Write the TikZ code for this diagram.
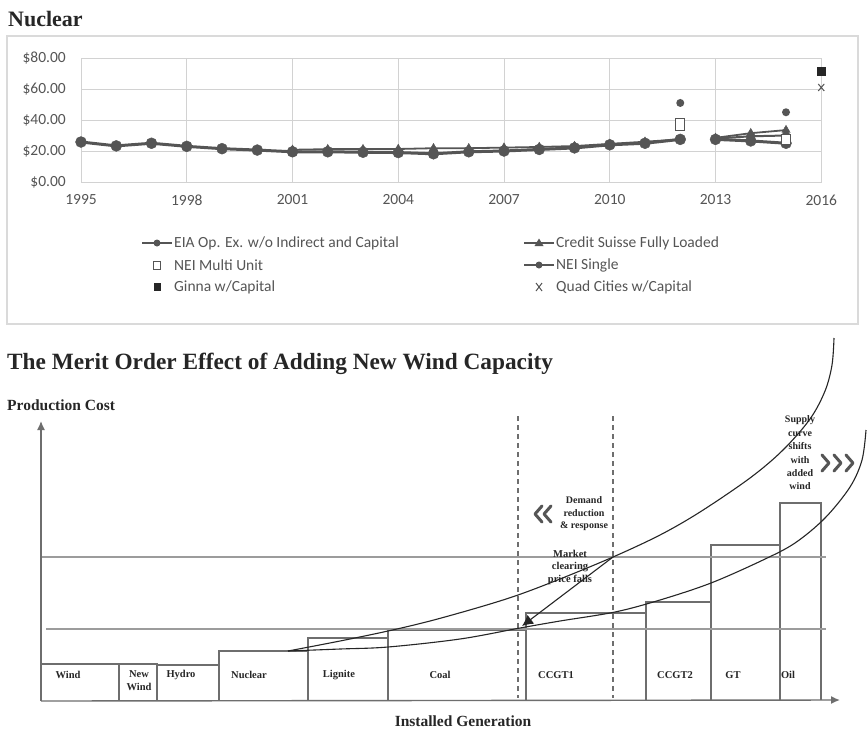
\documentclass[tikz,border=0pt]{standalone}
\usepackage{fontspec}
\setmainfont{Liberation Serif}
\newfontfamily\chartfont{Carlito}
\usetikzlibrary{arrows.meta,plotmarks}
\definecolor{sergray}{HTML}{555555}
\definecolor{gridgray}{HTML}{D2D2D2}
\definecolor{framegray}{HTML}{DADADA}
\definecolor{inkgray}{HTML}{262626}
\definecolor{linegray}{HTML}{6E6E6E}
\definecolor{levelgray}{HTML}{9C9C9C}
\tikzset{
  heading/.style={font=\bfseries\fontsize{22}{24}\selectfont, text=inkgray, anchor=west, inner sep=0pt},
  ticklabel/.style={font=\chartfont\fontsize{15.5}{17}\selectfont, text=sergray, inner sep=0pt},
  legendtext/.style={font=\chartfont\fontsize{15.5}{17}\selectfont, text=sergray, anchor=west, inner sep=0pt},
  grid line/.style={draw=gridgray, line width=1pt},
  series/.style={draw=sergray, line width=2.6pt, mark options={solid, fill=sergray, draw=sergray, line width=0.4pt}},
  eia/.style={series, line width=3pt, mark=*, mark size=5.5pt},
  cs/.style={series, line width=1.8pt, mark=triangle*, mark size=4.8pt},
  single/.style={series, line width=2pt, mark=*, mark size=4pt},
  axisline/.style={draw=linegray, line width=1.4pt, -{Latex[length=9pt,width=8pt]}},
  unit/.style={draw=linegray, line width=1.2pt},
  unitlabel/.style={font=\bfseries\fontsize{10.5}{13}\selectfont, text=inkgray, align=center, inner sep=0pt},
  level/.style={draw=levelgray, line width=2pt},
  bound/.style={draw=linegray, line width=1.2pt, dash pattern=on 5pt off 4pt},
  supply/.style={draw=inkgray, line width=1.1pt},
  note/.style={font=\bfseries\fontsize{10}{12.5}\selectfont, text=inkgray, align=center, inner sep=0pt},
  chevron/.style={draw=sergray, line width=3pt, line cap=round, line join=round},
}
\begin{document}
\begin{tikzpicture}[x=1pt,y=-1pt]
\useasboundingbox[fill=white] (0,0) rectangle (867,729);

% ---------------- Nuclear cost chart ----------------
\node[heading] (nuctitle) at (8,19) {Nuclear};
\draw[draw=framegray, line width=1.6pt] (7,36) rectangle (858,324);

% grid
\foreach \v/\lab in {0/\$0.00, 20/\$20.00, 40/\$40.00, 60/\$60.00, 80/\$80.00}{
  \draw[grid line] (81,{182-1.55*\v}) -- (822,{182-1.55*\v});
  \node[ticklabel, anchor=east] (ylab\v) at (66,{182-1.55*\v}) {\lab};
}
\foreach \yr in {1995,1998,2001,2004,2007,2010,2013,2016}{
  \draw[grid line] ({81+(\yr-1995)*35.25},58) -- ({81+(\yr-1995)*35.25},182);
  \node[ticklabel] (xlab\yr) at ({81+(\yr-1995)*35.25},200) {\yr};
}

\begin{scope}[shift={(81pt,-182pt)}, x=35.25pt, y=1.55pt]
  % Credit Suisse fully loaded
  \draw[cs] plot coordinates {(6,20.8) (7,21.2) (8,21.2) (9,21.3) (10,21.8) (11,21.8) (12,22.2) (13,22.6) (14,23.2) (15,24.6) (16,26) (17,27.5)};
  \draw[cs] plot coordinates {(18,28.5) (19,31.5) (20,33.5)};
  % EIA operating expense
  \draw[eia] plot coordinates {(0,25.8) (1,23.3) (2,25) (3,23) (4,21.5) (5,20.6) (6,19.5) (7,19.5) (8,19.2) (9,19) (10,18.2) (11,19.5) (12,20) (13,21) (14,22) (15,24) (16,25) (17,27.5)};
  \draw[single] plot coordinates {(18,28) (19,29.5) (20,30)};
  \draw[eia] plot coordinates {(18,27.5) (19,26.5) (20,25)};
  % single points
  \draw[draw=sergray, fill=white, line width=0.9pt] (17,41) ++(-4.5pt,0) rectangle ++(9pt,-12pt);
  \draw[draw=sergray, fill=white, line width=0.9pt] (20,31) ++(-4.5pt,0) rectangle ++(9pt,-10pt);
  \fill[sergray] (17,51) circle (4pt);
  \fill[sergray] (20,45) circle (4pt);
  \fill[inkgray] (21,71.5) ++(-4.5pt,-4.5pt) rectangle ++(9pt,9pt);
  \draw[sergray, line width=1pt] (21,61) ++(-3pt,-3.5pt) -- ++(6pt,7pt) ++(-6pt,0) -- ++(6pt,-7pt);
\end{scope}

% legend
\node[legendtext] (leg-eia) at (174,243) {EIA Op. Ex. w/o Indirect and Capital};
\node[legendtext] (leg-cs) at (556,243) {Credit Suisse Fully Loaded};
\node[legendtext] (leg-multi) at (174,265) {NEI Multi Unit};
\node[legendtext] (leg-single) at (556,265) {NEI Single};
\node[legendtext] (leg-ginna) at (174,287) {Ginna w/Capital};
\node[legendtext] (leg-quad) at (556,287) {Quad Cities w/Capital};

\draw[series, line width=2.4pt] ([xshift=-2pt]leg-eia.west) -- ++(-30,0);
\fill[sergray] ([xshift=-17pt]leg-eia.west) circle (3.5pt);
\draw[series, line width=1.8pt] ([xshift=-2pt]leg-cs.west) -- ++(-30,0);
\fill[sergray] ([xshift=-17pt]leg-cs.west) ++(0,-4.5) -- ++(4.5,7.5) -- ++(-9,0) -- cycle;
\draw[draw=sergray, fill=white, line width=0.8pt] ([xshift=-17pt]leg-multi.west) ++(-3.5,-4) rectangle ++(7,8);
\draw[series, line width=1.8pt] ([xshift=-2pt]leg-single.west) -- ++(-30,0);
\fill[sergray] ([xshift=-17pt]leg-single.west) circle (3.5pt);
\fill[inkgray] ([xshift=-17pt]leg-ginna.west) ++(-3.5,-4) rectangle ++(7,8);
\draw[sergray, line width=1pt] ([xshift=-17pt]leg-quad.west) ++(-3,-4) -- ++(6,8) ++(-6,0) -- ++(6,-8);

% ---------------- Merit order diagram ----------------
\node[heading, font=\bfseries\fontsize{23.3}{25}\selectfont] (merittitle) at (7,364) {The Merit Order Effect of Adding New Wind Capacity};
\node[font=\bfseries\fontsize{15.5}{17}\selectfont, text=inkgray, anchor=west, inner sep=0pt] (ylabel) at (7,405) {Production Cost};
\node[font=\bfseries\fontsize{15.5}{17}\selectfont, text=inkgray, inner sep=0pt] (xlabel) at (463,721) {Installed Generation};

% demand bounds
\coordinate (dl-top) at (518,416); \coordinate (dl-bot) at (518,698);
\coordinate (dr-top) at (613,416); \coordinate (dr-bot) at (613,698);
\draw[bound] (dl-top) -- (dl-bot);
\draw[bound] (dr-top) -- (dr-bot);

% generation units
\foreach \xa/\xb/\tp in {41/119/664, 119/157/664, 157/219/665, 219/308/651, 308/388/638, 388/526/630, 526/646/613, 646/711/602, 711/780/545, 780/821/503}{
  \draw[unit] (\xa,700) -- (\xa,\tp) -- (\xb,\tp) -- (\xb,700);
}
\node[unitlabel] (u-wind) at (68,675) {Wind};
\node[unitlabel] (u-newwind) at (139,681) {New\\Wind};
\node[unitlabel] (u-hydro) at (181,675) {Hydro};
\node[unitlabel] (u-nuclear) at (249,675) {Nuclear};
\node[unitlabel] (u-lignite) at (339,675) {Lignite};
\node[unitlabel] (u-coal) at (440,675) {Coal};
\node[unitlabel] (u-ccgt1) at (556,675) {CCGT1};
\node[unitlabel] (u-ccgt2) at (675,675) {CCGT2};
\node[unitlabel] (u-gt) at (733,675) {GT};
\node[unitlabel] (u-oil) at (788,675) {Oil};

% price levels
\draw[level] (46,629) -- (826,629);
\draw[level] (41,557) -- (826,557);

% axes
\coordinate (origin) at (41,701);
\coordinate (ytip) at (41,421);
\coordinate (xtip) at (840,700);
\draw[axisline] (origin) -- (ytip);
\draw[axisline] (origin) -- (xtip);

% supply curves before and after adding wind
\draw[supply] plot[smooth, tension=0.55] coordinates {(288,651) (340,641) (388,631) (430,621) (480,607) (518,595) (560,579) (613,557) (660,535) (700,512) (750,478) (783,450) (810,419) (825,391) (832,365) (834,338)};
\draw[supply] plot[smooth, tension=0.55] coordinates {(288,651) (340,649) (388,647) (460,639) (520,628) (560,621) (615,612) (660,600) (711,583) (763,560) (795,543) (825,518) (850,487) (862,460) (866,430)};

% drop of the clearing price
\coordinate (clear-old) at (613,557);
\coordinate (clear-new) at (522,626);
\draw[supply, -{Latex[length=11pt,width=11pt]}] (clear-old) -- (clear-new);

% annotations
\node[note] (demand) at (584,514) {Demand\\reduction\\\& response};
\node[note, font=\bfseries\fontsize{10.5}{12.5}\selectfont] (market) at (570,567) {Market\\clearing\\price falls};
\node[note, font=\bfseries\fontsize{10}{13.4}\selectfont] (shift) at (800,453) {Supply\\curve\\shifts\\with\\added\\wind};

\draw[chevron] (542,506) -- (535,514) -- (542,522);
\draw[chevron] (551,506) -- (544,514) -- (551,522);
\draw[chevron] (822,455) -- (829,463) -- (822,471);
\draw[chevron] (834,455) -- (841,463) -- (834,471);
\draw[chevron] (846,455) -- (853,463) -- (846,471);
\end{tikzpicture}
\end{document}
